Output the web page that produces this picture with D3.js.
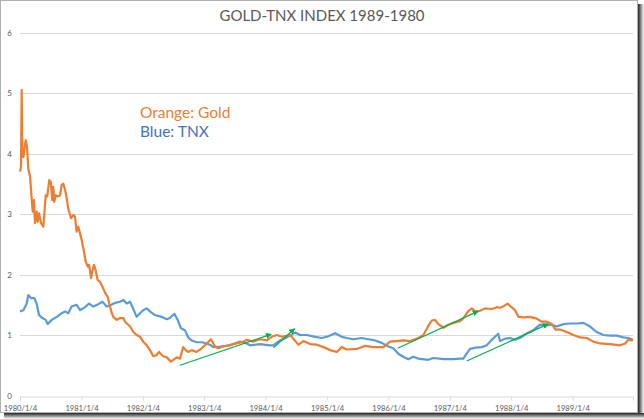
<!DOCTYPE html>
<html><head><meta charset="utf-8">
<script src="https://cdn.jsdelivr.net/npm/d3@7"></script>
<style>
html,body{margin:0;padding:0;background:#fff;}
svg{display:block;}
</style></head>
<body>
<svg id="c" width="644" height="419"></svg>
<script>
// ---- data ----
const title = "GOLD-TNX INDEX 1989-1980";
const yTicks = [0, 1, 2, 3, 4, 5, 6];
const xTickDates = ["1980-01-04","1981-01-04","1982-01-04","1983-01-04","1984-01-04","1985-01-04","1986-01-04","1987-01-04","1988-01-04","1989-01-04"];
const xTickLabels = ["1980/1/4","1981/1/4","1982/1/4","1983/1/4","1984/1/4","1985/1/4","1986/1/4","1987/1/4","1988/1/4","1989/1/4"];
const xDomain = ["1980-01-04", "1989-12-29"];

const goldDates = [
"1980-01-04","1980-01-10","1980-01-14","1980-01-18","1980-01-24","1980-02-07","1980-02-15","1980-02-22","1980-03-04","1980-03-14",
"1980-03-20","1980-03-27","1980-04-02","1980-04-12","1980-04-18","1980-04-26","1980-05-08","1980-05-22","1980-06-05","1980-06-14",
"1980-06-26","1980-07-05","1980-07-14","1980-07-20","1980-07-26","1980-08-03","1980-08-15","1980-08-29","1980-09-08","1980-09-18",
"1980-09-28","1980-10-08","1980-10-17","1980-11-02","1980-11-16","1980-11-26","1980-12-06","1980-12-16","1980-12-26","1981-01-05",
"1981-01-15","1981-01-29","1981-02-10","1981-02-18","1981-03-02","1981-03-09","1981-03-19","1981-03-29","1981-04-10","1981-04-24",
"1981-05-08","1981-05-24","1981-06-09","1981-06-18","1981-07-01","1981-07-12","1981-08-01","1981-08-21","1981-09-10","1981-09-20",
"1981-10-20","1981-11-08","1981-11-28","1981-12-18","1982-01-06","1982-01-27","1982-02-15","1982-03-07","1982-03-27","1982-04-10",
"1982-05-05","1982-05-26","1982-06-20","1982-07-04","1982-07-24","1982-08-13","1982-09-01","1982-09-16","1982-10-01","1982-10-21",
"1982-11-20","1982-12-20","1983-01-19","1983-02-13","1983-02-27","1983-03-12","1983-03-29","1983-04-28","1983-05-18","1983-06-26",
"1983-08-25","1983-09-14","1983-10-23","1983-12-02","1984-01-11","1984-02-10","1984-03-11","1984-04-09","1984-05-29","1984-06-17",
"1984-07-17","1984-08-16","1984-09-25","1984-11-04","1984-12-13","1985-01-22","1985-03-03","1985-04-01","1985-05-01","1985-06-30",
"1985-08-18","1985-10-06","1985-12-05","1986-01-14","1986-02-22","1986-04-03","1986-05-13","1986-07-01","1986-07-31","1986-08-29",
"1986-09-19","1986-10-08","1986-10-28","1986-11-27","1986-12-26","1987-01-25","1987-03-06","1987-03-26","1987-04-25","1987-05-15",
"1987-06-04","1987-07-03","1987-08-02","1987-09-11","1987-10-11","1987-10-30","1987-11-23","1987-12-14","1987-12-29","1988-01-27",
"1988-02-16","1988-03-17","1988-04-25","1988-06-04","1988-07-04","1988-08-03","1988-09-02","1988-09-24","1988-10-21","1988-11-30",
"1989-01-08","1989-02-17","1989-03-29","1989-05-07","1989-06-16","1989-08-15","1989-10-13","1989-11-12","1989-12-01","1989-12-29"
];
const goldValues = [
3.70,3.78,5.05,3.95,3.94,4.22,4.11,3.75,3.62,3.23,
3.04,3.23,2.85,3.04,2.87,3.01,2.85,2.79,3.31,3.29,
3.56,3.53,3.23,3.45,3.20,3.31,3.29,3.31,3.48,3.50,
3.40,3.26,3.09,2.93,2.98,2.96,2.71,2.79,2.68,2.57,
2.43,2.21,2.13,2.16,1.94,2.05,2.16,2.07,1.91,1.88,
1.80,1.70,1.63,1.52,1.38,1.30,1.25,1.28,1.28,1.22,
1.14,1.05,1.00,0.97,0.89,0.83,0.75,0.65,0.67,0.72,
0.65,0.63,0.56,0.59,0.63,0.61,0.80,0.75,0.72,0.75,
0.72,0.78,0.86,0.93,0.86,0.80,0.78,0.81,0.82,0.85,
0.89,0.92,0.89,0.93,0.91,0.97,1.00,0.97,1.00,0.94,
0.84,0.90,0.85,0.84,0.80,0.75,0.72,0.80,0.76,0.77,
0.82,0.80,0.80,0.89,0.90,0.91,0.90,0.95,1.00,1.15,
1.24,1.25,1.18,1.12,1.17,1.20,1.23,1.28,1.40,1.44,
1.39,1.40,1.44,1.43,1.46,1.45,1.48,1.52,1.48,1.41,
1.30,1.29,1.30,1.27,1.22,1.22,1.18,1.09,1.09,1.05,
1.00,0.96,0.95,0.89,0.86,0.85,0.83,0.86,0.92,0.91
];

const tnxDates = [
"1980-01-04","1980-01-24","1980-02-13","1980-02-22","1980-03-10","1980-03-29","1980-04-12","1980-04-26","1980-05-16","1980-06-05",
"1980-06-17","1980-07-11","1980-08-10","1980-09-08","1980-09-28","1980-10-17","1980-11-06","1980-12-06","1980-12-26","1981-01-25",
"1981-02-18","1981-03-15","1981-04-14","1981-05-08","1981-06-03","1981-06-29","1981-07-22","1981-08-21","1981-09-10","1981-09-30",
"1981-10-20","1981-11-14","1981-11-28","1981-12-18","1982-01-06","1982-01-27","1982-02-15","1982-03-17","1982-04-26","1982-05-26",
"1982-06-14","1982-07-10","1982-07-30","1982-08-19","1982-09-11","1982-10-01","1982-10-21","1982-11-20","1982-12-20","1983-01-19",
"1983-02-13","1983-02-27","1983-04-08","1983-06-07","1983-08-05","1983-09-14","1983-10-03","1983-12-02","1984-01-31","1984-02-19",
"1984-03-30","1984-05-09","1984-06-28","1984-07-27","1984-09-05","1984-10-25","1984-12-04","1985-01-12","1985-02-21","1985-04-01",
"1985-05-01","1985-06-09","1985-07-29","1985-09-07","1985-10-17","1985-11-25","1986-01-04","1986-02-02","1986-03-04","1986-04-02",
"1986-05-02","1986-06-01","1986-07-01","1986-08-29","1986-09-28","1986-11-27","1987-01-25","1987-03-06","1987-03-26","1987-04-11",
"1987-05-05","1987-06-04","1987-07-13","1987-08-12","1987-09-11","1987-10-11","1987-10-19","1987-10-30","1987-11-29","1987-12-29",
"1988-01-27","1988-03-03","1988-04-08","1988-05-15","1988-06-24","1988-08-03","1988-09-02","1988-10-01","1988-11-10","1988-12-20",
"1989-01-28","1989-03-09","1989-04-18","1989-05-27","1989-07-06","1989-08-15","1989-09-23","1989-11-02","1989-12-01","1989-12-29"
];
const tnxValues = [
1.39,1.41,1.52,1.66,1.61,1.61,1.52,1.33,1.28,1.25,
1.18,1.25,1.30,1.36,1.39,1.36,1.47,1.50,1.41,1.46,
1.52,1.47,1.51,1.55,1.47,1.50,1.53,1.55,1.58,1.52,
1.55,1.39,1.30,1.36,1.41,1.44,1.39,1.33,1.30,1.26,
1.28,1.35,1.25,1.11,1.08,0.96,0.91,0.88,0.88,0.86,
0.83,0.80,0.81,0.83,0.89,0.86,0.83,0.85,0.83,0.83,
0.91,0.96,1.04,1.00,1.00,0.97,0.95,0.98,1.03,0.97,
0.95,0.93,0.95,0.93,0.91,0.87,0.81,0.78,0.69,0.64,
0.60,0.64,0.61,0.59,0.62,0.60,0.60,0.61,0.61,0.68,
0.77,0.79,0.80,0.83,0.92,1.00,1.02,0.90,0.94,0.95,
0.92,0.96,1.03,1.08,1.17,1.16,1.17,1.14,1.18,1.19,
1.19,1.20,1.14,1.05,1.00,0.99,0.99,0.96,0.95,0.92
];

// green trend arrows: [startDate, startValue, endDate, endValue]
const arrowStartDates = ["1982-08-13","1984-02-20","1986-02-28","1987-04-15"];
const arrowStartValues = [0.50, 0.79, 0.78, 0.57];
const arrowEndDates = ["1984-02-04","1984-06-23","1987-06-19","1988-08-09"];
const arrowEndValues = [1.01, 1.10, 1.39, 1.18];

const legendLabels = ["Orange: Gold", "Blue: TNX"];

// ---- drawing ----
const parse = d3.timeParse("%Y-%m-%d");
const svg = d3.select("#c");
const W = 644, H = 419;
const frameW = 638, frameH = 413;

// frame shadow + border
const defs = svg.append("defs");
const gr = defs.append("linearGradient").attr("id","sr").attr("x1","0").attr("x2","1").attr("y1","0").attr("y2","0");
gr.append("stop").attr("offset","0").attr("stop-color","#222");
gr.append("stop").attr("offset","1").attr("stop-color","#fff");
const gb = defs.append("linearGradient").attr("id","sb").attr("x1","0").attr("x2","0").attr("y1","0").attr("y2","1");
gb.append("stop").attr("offset","0").attr("stop-color","#222");
gb.append("stop").attr("offset","1").attr("stop-color","#fff");
svg.append("rect").attr("x", frameW).attr("y", 4).attr("width", W - frameW).attr("height", H - 4).attr("fill","url(#sr)");
svg.append("rect").attr("x", 4).attr("y", frameH).attr("width", W - 4).attr("height", H - frameH).attr("fill","url(#sb)");
svg.append("rect").attr("x",0.5).attr("y",0.5).attr("width",frameW-1).attr("height",frameH-1)
  .attr("fill","#fff").attr("stroke","#b0b0b0").attr("stroke-width",1);

const x = d3.scaleTime().domain(xDomain.map(parse)).range([20, 633]);
const y = d3.scaleLinear().domain([0, 6]).range([395.5, 32.5]);

const font = "Lato, 'Open Sans', sans-serif";

// title
svg.append("text").attr("x", 322).attr("y", 21).attr("text-anchor","middle")
  .attr("font-family", font).attr("font-size", 15).attr("fill","#595959").text(title);

// gridlines
svg.append("g").selectAll("line").data(yTicks.filter(v => v > 0)).join("line")
  .attr("x1", 20).attr("x2", 633).attr("y1", d => Math.round(y(d)) + 0.5).attr("y2", d => Math.round(y(d)) + 0.5)
  .attr("stroke","#d9d9d9").attr("stroke-width",1);

// y labels
svg.append("g").selectAll("text").data(yTicks).join("text")
  .attr("x", 12).attr("y", d => y(d) + 3).attr("text-anchor","end")
  .attr("font-family", font).attr("font-size", 8).attr("fill","#595959").text(d => d);

// x axis
const labelMap = new Map(xTickDates.map((d,i) => [d, xTickLabels[i]]));
const xAxis = d3.axisBottom(x).tickValues(xTickDates.map(parse)).tickSizeOuter(0).tickSize(4)
  .tickFormat(d => labelMap.get(d3.timeFormat("%Y-%m-%d")(d)));
const gx = svg.append("g").attr("transform", `translate(0,${Math.round(y(0)) + 0.5})`).call(xAxis);
gx.select(".domain").attr("stroke","#d9d9d9");
gx.selectAll(".tick line").attr("stroke","#d9d9d9");
gx.selectAll(".tick text").attr("font-family", font).attr("font-size", 7.6).attr("fill","#595959").attr("dy","0.95em");

// lines
const line = d3.line().x(d => x(d[0])).y(d => y(d[1]));
const tnx = tnxDates.map((d,i) => [parse(d), tnxValues[i]]);
const gold = goldDates.map((d,i) => [parse(d), goldValues[i]]);
svg.append("path").datum(tnx).attr("d", line).attr("fill","none").attr("stroke","#5b9bd5").attr("stroke-width",2.2).attr("stroke-linejoin","round");
svg.append("path").datum(gold).attr("d", line).attr("fill","none").attr("stroke","#ed7d31").attr("stroke-width",2.2).attr("stroke-linejoin","round");

// arrows
defs.append("marker").attr("id","ah").attr("viewBox","0 0 10 10").attr("refX",8).attr("refY",5)
  .attr("markerWidth",6).attr("markerHeight",6).attr("markerUnits","userSpaceOnUse").attr("orient","auto")
  .append("path").attr("d","M0,0 L10,5 L0,10 z").attr("fill","#00b050");
svg.append("g").selectAll("line").data(arrowStartDates.map((d,i) => i)).join("line")
  .attr("x1", i => x(parse(arrowStartDates[i]))).attr("y1", i => y(arrowStartValues[i]))
  .attr("x2", i => x(parse(arrowEndDates[i]))).attr("y2", i => y(arrowEndValues[i]))
  .attr("stroke","#00b050").attr("stroke-width",1.2).attr("marker-end","url(#ah)");

// legend annotation text
svg.append("text").attr("x",140).attr("y",117.5).attr("font-family", font).attr("font-size",15.5)
  .attr("fill","#ed7d31").text(legendLabels[0]);
svg.append("text").attr("x",140).attr("y",137).attr("font-family", font).attr("font-size",15.5)
  .attr("fill","#4472c4").text(legendLabels[1]);
</script>
</body></html>
